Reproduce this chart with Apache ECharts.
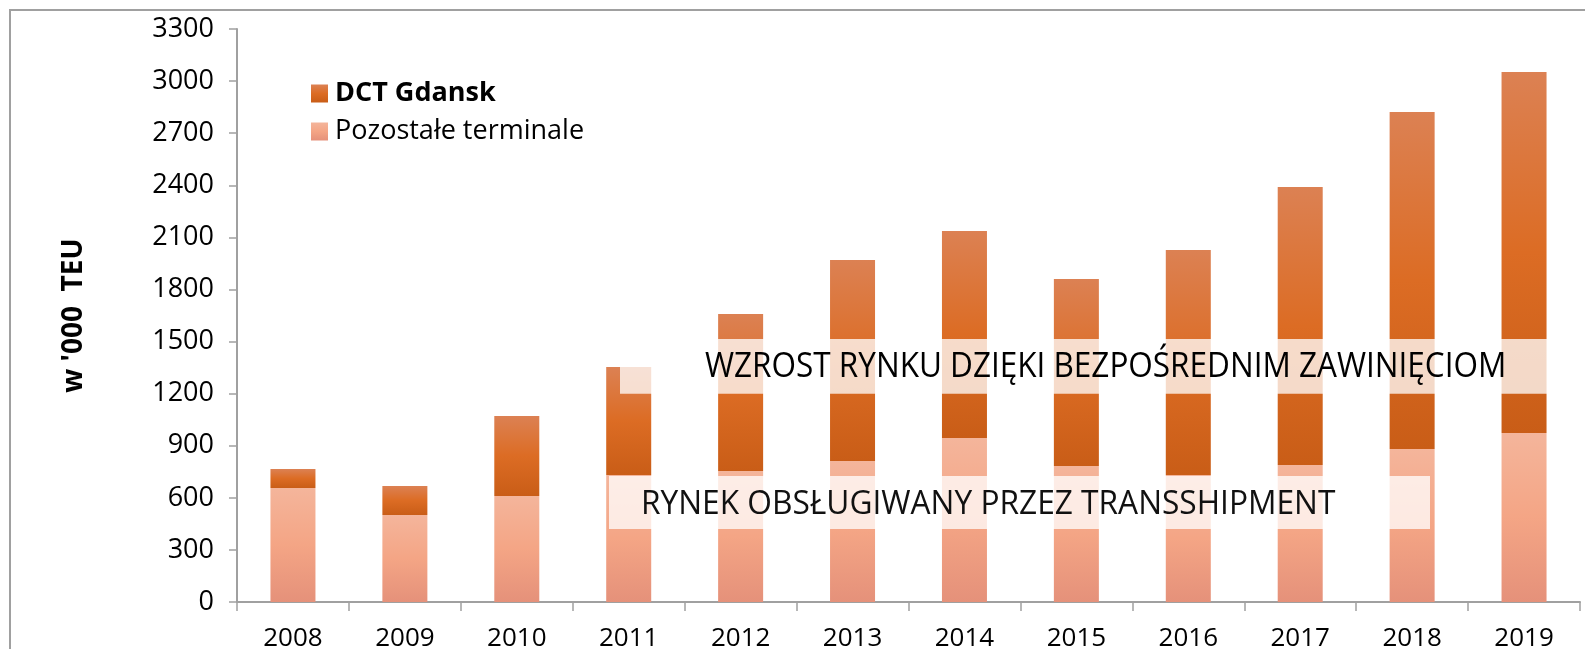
<!DOCTYPE html>
<html>
<head>
<meta charset="utf-8">
<script src="https://cdn.jsdelivr.net/npm/echarts@6/dist/echarts.min.js"></script>
<style>
    html, body { margin: 0; padding: 0; background: #fff; }
    #chart { width: 1585px; height: 649px; }
</style>
</head>
<body>
<div id="chart"></div>
<script>
    // dane (tys. TEU)
    const years = ['2008', '2009', '2010', '2011', '2012', '2013', '2014', '2015', '2016', '2017', '2018', '2019'];
    const pozostale = [657, 501, 610, 731, 754, 812, 944, 783, 731, 789, 881, 973];
    const dct = [109, 167, 461, 622, 905, 1158, 1193, 1077, 1296, 1601, 1941, 2079];
    const yMax = 3300;
    const yStep = 300;

    const font = '"Open Sans", "Noto Sans", sans-serif';
    const grad = (stops) => new echarts.graphic.LinearGradient(0, 0, 0, 1,
        stops.map((c, i) => ({offset: i / (stops.length - 1), color: c})));
    const dctColor = grad(['#dc8153', '#dc6c24', '#c95d17']);
    const pozColor = grad(['#f4b59b', '#f4a585', '#e5917a']);

    const myChart = echarts.init(document.getElementById('chart'));
    const option = {
        animation: false,
        backgroundColor: '#fff',
        grid: {left: 237, right: 5, top: 29, bottom: 47, containLabel: false, outerBoundsMode: 'none'},
        legend: {
            orient: 'vertical',
            left: 306,
            top: 75,
            itemWidth: 17,
            itemHeight: 18,
            itemGap: 11,
            icon: 'rect',
            data: [
                {name: 'DCT Gdansk', itemStyle: {color: dctColor}},
                {name: 'Pozostałe terminale', itemStyle: {color: pozColor}}
            ],
            formatter: n => n === 'DCT Gdansk' ? '{b|' + n + '}' : n,
            textStyle: {
                fontFamily: font, fontSize: 27, color: '#000', padding: [0, 0, 0, 2],
                rich: {b: {fontFamily: font, fontSize: 27, fontWeight: 'bold', color: '#000'}}
            }
        },
        xAxis: {
            type: 'category',
            data: years,
            boundaryGap: true,
            axisLine: {lineStyle: {color: '#a0a0a0', width: 2}},
            axisTick: {show: true, length: 9, lineStyle: {color: '#a0a0a0', width: 1.5}},
            axisLabel: {fontFamily: font, fontSize: 26, color: '#000', margin: 24}
        },
        yAxis: {
            type: 'value',
            min: 0,
            max: yMax,
            interval: yStep,
            name: "w '000  TEU",
            nameLocation: 'middle',
            nameGap: 149,
            nameTextStyle: {fontFamily: font, fontSize: 28, fontWeight: 'bold', color: '#000'},
            splitLine: {show: false},
            axisLine: {show: true, lineStyle: {color: '#a0a0a0', width: 2}},
            axisTick: {show: true, length: 8, lineStyle: {color: '#a0a0a0', width: 1.5}},
            axisLabel: {fontFamily: font, fontSize: 27, color: '#000', margin: 23, formatter: v => String(v)}
        },
        series: [
            {
                name: 'Pozostałe terminale',
                type: 'bar',
                stack: 'teu',
                barWidth: 45,
                itemStyle: {color: pozColor},
                data: pozostale
            },
            {
                name: 'DCT Gdansk',
                type: 'bar',
                stack: 'teu',
                barWidth: 45,
                itemStyle: {color: dctColor},
                data: dct
            }
        ]
    };
    myChart.setOption(option);

    // półprzezroczyste pasy z opisami
    const py = v => myChart.convertToPixel({yAxisIndex: 0}, v);
    const band = (x1, x2, v1, v2) => ({
        type: 'rect', z: 100,
        shape: {x: x1, y: py(v2), width: x2 - x1, height: py(v1) - py(v2)},
        style: {fill: 'rgba(255,255,255,0.76)'}
    });
    myChart.setOption({
        graphic: [
            {
                type: 'rect', z: 99,
                shape: {x: 10, y: 10, width: 1600, height: 700},
                style: {fill: 'none', stroke: '#a0a0a0', lineWidth: 2}
            },
            band(620, 1565, 1200, 1515),
            band(609, 1430, 420, 725),
            {
                type: 'text', z: 101, x: 705, y: (py(1200) + py(1515)) / 2 + 1,
                scaleX: 0.9, originX: 0,
                style: {text: 'WZROST RYNKU DZIĘKI BEZPOŚREDNIM ZAWINIĘCIOM', font: '35px ' + font,
                    fill: '#000', textAlign: 'left', textVerticalAlign: 'middle'}
            },
            {
                type: 'text', z: 101, x: 641, y: (py(420) + py(725)) / 2 + 2,
                scaleX: 0.99, originX: 0,
                style: {text: 'RYNEK OBSŁUGIWANY PRZEZ TRANSSHIPMENT', font: '32px ' + font,
                    fill: '#111', textAlign: 'left', textVerticalAlign: 'middle'}
            }
        ]
    });
</script>
</body>
</html>
